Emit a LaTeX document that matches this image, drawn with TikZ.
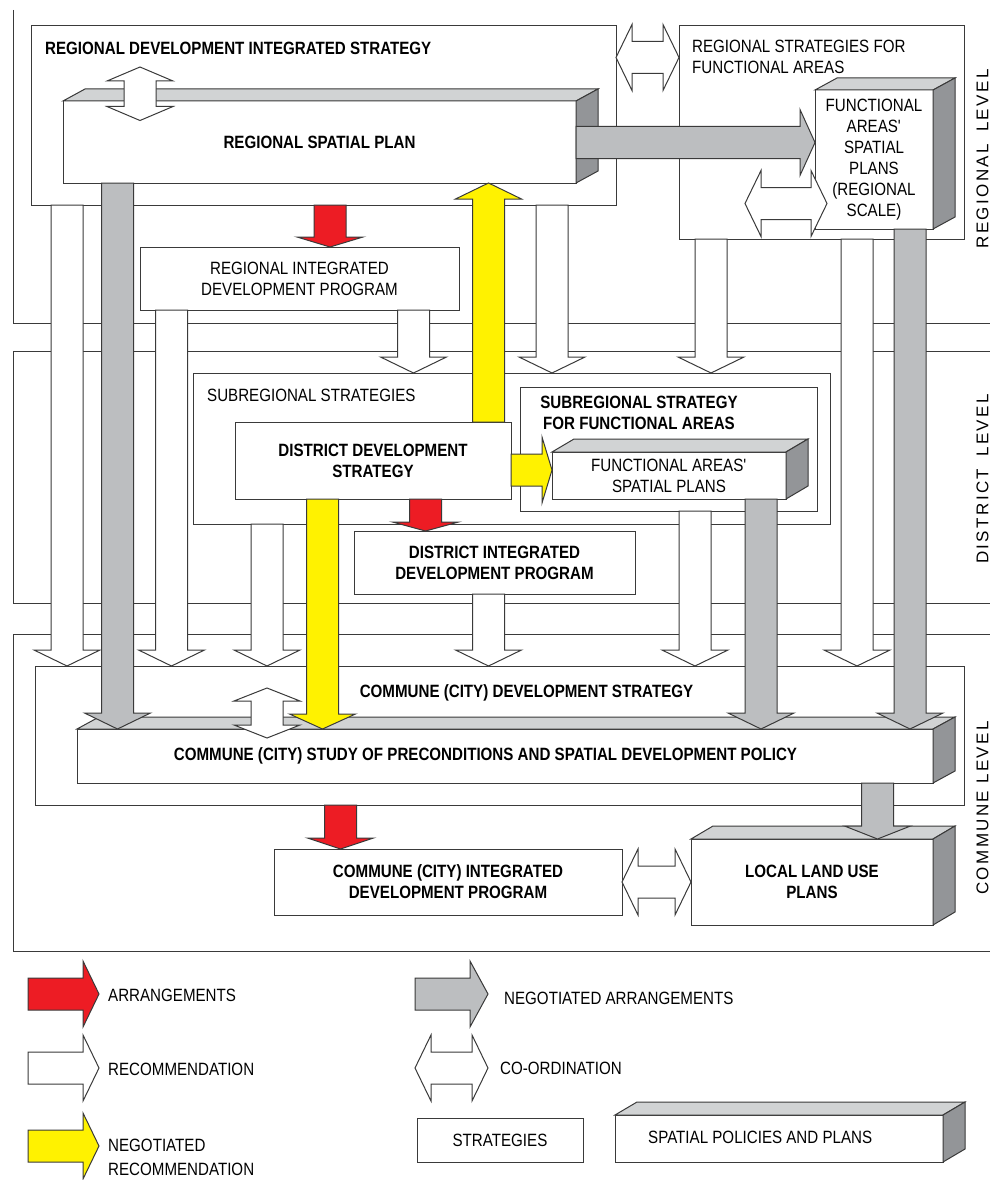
\documentclass[tikz,border=0pt]{standalone}
\usepackage{fontspec}
\setmainfont{Liberation Sans}[FakeStretch=0.85]
\newfontfamily\lvfont{Liberation Sans}[LetterSpace=14]
\usetikzlibrary{calc}
\definecolor{cred}{HTML}{ED1C24}
\definecolor{cyel}{HTML}{FFF200}
\definecolor{cgray}{HTML}{BCBEC0}
\definecolor{ctop}{HTML}{D1D3D4}
\definecolor{cside}{HTML}{939598}
\definecolor{cline}{HTML}{3A3A3A}
\newcommand\fs{\fontsize{17.8}{21}\selectfont}
\tikzset{
 ln/.style={draw=cline, line width=1pt},
 box/.style={ln, fill=white, rectangle, inner sep=0pt, outer sep=0pt, anchor=north west, font=\fs, align=center},
 bbox/.style={box, font=\fs\bfseries},
 arr/.style={ln, line join=miter},
 topface/.style={ln, fill=ctop},
 sideface/.style={ln, fill=cside},
 txt/.style={inner sep=0pt, font=\fs, align=center},
 btxt/.style={txt, font=\fs\bfseries},
 lvl/.style={inner sep=0pt, rotate=90, font=\lvfont\fontsize{17}{20}\selectfont},
}
% 3D faces of a box node: #1 node, #2 depth up
\newcommand\cube[2]{%
 \draw[topface] (#1.north west) -- ++(22,-#2) -- ([shift={(22,-#2)}]#1.north east) -- (#1.north east) -- cycle;
 \draw[sideface] (#1.north east) -- ++(22,-#2) -- ([shift={(22,-#2)}]#1.south east) -- (#1.south east) -- cycle;}
% block arrows: #1 fill, #2 start, #3 tip, #4 head length
\newcommand\ardown[4]{\draw[arr,fill=#1] let \p1=#2, \p2=#3 in
 (\x2-16pt,\y1) -- (\x2-16pt,\y2+#4pt) -- (\x2-33pt,\y2+#4pt) -- (\x2,\y2) -- (\x2+33pt,\y2+#4pt) -- (\x2+16pt,\y2+#4pt) -- (\x2+16pt,\y1) -- cycle;}
\newcommand\arup[4]{\draw[arr,fill=#1] let \p1=#2, \p2=#3 in
 (\x2-16pt,\y1) -- (\x2-16pt,\y2-#4pt) -- (\x2-33pt,\y2-#4pt) -- (\x2,\y2) -- (\x2+33pt,\y2-#4pt) -- (\x2+16pt,\y2-#4pt) -- (\x2+16pt,\y1) -- cycle;}
\newcommand\arright[4]{\draw[arr,fill=#1] let \p1=#2, \p2=#3 in
 (\x1,\y2+16pt) -- (\x2-#4pt,\y2+16pt) -- (\x2-#4pt,\y2+33pt) -- (\x2,\y2) -- (\x2-#4pt,\y2-33pt) -- (\x2-#4pt,\y2-16pt) -- (\x1,\y2-16pt) -- cycle;}
% double arrows (co-ordination): #1 first tip, #2 second tip, #3 head length
\newcommand\dblv[3]{\draw[arr,fill=white] let \p1=#1, \p2=#2 in
 (\x1,\y1) -- (\x1+33pt,\y1-#3pt) -- (\x1+16pt,\y1-#3pt) -- (\x1+16pt,\y2+#3pt) -- (\x1+33pt,\y2+#3pt) -- (\x1,\y2) -- (\x1-33pt,\y2+#3pt) -- (\x1-16pt,\y2+#3pt) -- (\x1-16pt,\y1-#3pt) -- (\x1-33pt,\y1-#3pt) -- cycle;}
\newcommand\dblh[3]{\draw[arr,fill=white] let \p1=#1, \p2=#2 in
 (\x1,\y1) -- (\x1+#3pt,\y1+33pt) -- (\x1+#3pt,\y1+16pt) -- (\x2-#3pt,\y1+16pt) -- (\x2-#3pt,\y1+33pt) -- (\x2,\y1) -- (\x2-#3pt,\y1-33pt) -- (\x2-#3pt,\y1-16pt) -- (\x1+#3pt,\y1-16pt) -- (\x1+#3pt,\y1-33pt) -- cycle;}
\begin{document}
\begin{tikzpicture}[x=1pt,y=-1pt]
\useasboundingbox (0,0) rectangle (990,1180);
% level bands
\draw[ln] (13,10) -- (13,323) -- (990,323);
\draw[ln] (990,351) -- (13,351) -- (13,603) -- (990,603);
\draw[ln] (990,634) -- (13,634) -- (13,951) -- (990,951);
\node[lvl] (lvR) at (982.5,159) {REGIONAL\hspace{5pt} LEVEL};
\node[lvl] (lvD) at (982.5,479) {DISTRICT\hspace{5pt} LEVEL};
\node[lvl] (lvC) at (982.5,808) {COMMUNE LEVEL};
% strategy frames
\node[box, minimum width=585pt, minimum height=179pt] (rdis) at (31,26) {};
\node[box, minimum width=285pt, minimum height=213pt] (rsf) at (679,26) {};
\node[box, minimum width=637pt, minimum height=151pt] (subr) at (193,373) {};
\node[box, minimum width=929pt, minimum height=139pt] (cds) at (35,666) {};
% inner boxes
\node[bbox, minimum width=513pt, minimum height=82pt] (rsp) at (63,101) {REGIONAL SPATIAL PLAN};
\cube{rsp}{12}
\node[box, minimum width=118pt, minimum height=139pt] (fasr) at (815,90) {FUNCTIONAL\\AREAS\textquotesingle\\SPATIAL\\PLANS\\(REGIONAL\\SCALE)};
\cube{fasr}{12}
\node[box, minimum width=319pt, minimum height=63pt] (ridp) at (140,247) {REGIONAL INTEGRATED\\DEVELOPMENT PROGRAM};
\node[bbox, minimum width=276pt, minimum height=77pt] (dds) at (235,422) {DISTRICT DEVELOPMENT\\STRATEGY};
\node[box, minimum width=297pt, minimum height=124pt] (ssfa) at (520,387) {};
\node[box, minimum width=234pt, minimum height=47pt] (fasd) at (552,452) {FUNCTIONAL AREAS\textquotesingle\\SPATIAL PLANS};
\cube{fasd}{13}
\node[bbox, minimum width=281pt, minimum height=63pt] (didp) at (354,531) {DISTRICT INTEGRATED\\DEVELOPMENT PROGRAM};
\node[box, minimum width=856pt, minimum height=54pt] (ccs) at (77,729) {};
\cube{ccs}{12}
\node[bbox, minimum width=348pt, minimum height=66pt] (ccidp) at (274,849) {COMMUNE (CITY) INTEGRATED\\DEVELOPMENT PROGRAM};
\node[bbox, minimum width=242pt, minimum height=86pt] (llup) at (691,839) {LOCAL LAND USE\\PLANS};
\cube{llup}{13}
% arrows regional level
\ardown{cred}{(330,0 |- rdis.south)}{(330,0 |- ridp.north)}{10}
\ardown{white}{(67,0 |- rdis.south)}{(67,0 |- cds.north)}{16}
\ardown{cgray}{(117.5,0 |- rsp.south)}{(117.5,0 |- ccs.north)}{16}
\ardown{white}{(171.5,0 |- ridp.south)}{(171.5,0 |- cds.north)}{16}
\ardown{white}{(413.5,0 |- ridp.south)}{(413.5,0 |- subr.north)}{16}
\arup{cyel}{(488.5,0 |- dds.north)}{(488.5,0 |- rsp.south)}{16}
\ardown{white}{(552,0 |- rdis.south)}{(552,0 |- subr.north)}{16}
\ardown{white}{(711,0 |- rsf.south)}{(711,0 |- subr.north)}{16}
\ardown{white}{(857,0 |- rsf.south)}{(857,0 |- cds.north)}{16}
\ardown{cgray}{(910,0 |- fasr.south)}{(910,0 |- ccs.north)}{16}
\arright{cgray}{(rsp.east |- 0,142.5)}{(fasr.west |- 0,142.5)}{15}
\coordinate (cva) at (140,67);
\coordinate (cvb) at (140,120.5);
\dblv{(cva)}{(cvb)}{14}
\dblh{(rdis.east |- 0,57.5)}{(rsf.west |- 0,57.5)}{16}
\coordinate (cha) at (745,203.5);
\coordinate (chb) at (827,203.5);
\dblh{(cha)}{(chb)}{16}
% arrows district level
\ardown{white}{(267,0 |- subr.south)}{(267,0 |- cds.north)}{16}
\ardown{cyel}{(322.5,0 |- dds.south)}{(322.5,0 |- ccs.north)}{15}
\ardown{cred}{(425.5,0 |- dds.south)}{(425.5,0 |- didp.north)}{9}
\arright{cyel}{(dds.east |- 0,470)}{(fasd.west |- 0,470)}{10}
\ardown{white}{(488.5,0 |- didp.south)}{(488.5,0 |- cds.north)}{16}
\ardown{white}{(695,0 |- ssfa.south)}{(695,0 |- cds.north)}{16}
\ardown{cgray}{(761,0 |- fasd.south)}{(761,0 |- ccs.north)}{16}
% arrows commune level
\coordinate (cca) at (267,688);
\coordinate (ccb) at (267,738);
\dblv{(cca)}{(ccb)}{13}
\ardown{cred}{(340.5,0 |- cds.south)}{(340.5,0 |- ccidp.north)}{11}
\ardown{cgray}{(877.5,0 |- ccs.south)}{(877.5,0 |- llup.north)}{13}
\dblh{(ccidp.east |- 0,882)}{(llup.west |- 0,882)}{16}
% labels of frames
\node[btxt, anchor=west] (rdisT) at (45,48) {REGIONAL DEVELOPMENT INTEGRATED STRATEGY};
\node[txt, anchor=west, align=left] (rsfT) at (692,57) {REGIONAL STRATEGIES FOR\\FUNCTIONAL AREAS};
\node[txt, anchor=west] (subrT) at (207,395) {SUBREGIONAL STRATEGIES};
\node[btxt] (ssfaT) at (639,413) {SUBREGIONAL STRATEGY\\FOR FUNCTIONAL AREAS};
\node[btxt] (cdsT) at (526.5,692.5) {COMMUNE (CITY) DEVELOPMENT STRATEGY};
\node[btxt] (ccsT) at (485.5,756) {COMMUNE (CITY) STUDY OF PRECONDITIONS AND SPATIAL DEVELOPMENT POLICY};
% legend
\coordinate (l1a) at (28,994);   \coordinate (l1b) at (99,994);
\coordinate (l2a) at (28,1068);  \coordinate (l2b) at (99,1068);
\coordinate (l3a) at (28,1146);  \coordinate (l3b) at (99,1146);
\coordinate (l4a) at (415,994);  \coordinate (l4b) at (488,994);
\coordinate (l5a) at (415,1068); \coordinate (l5b) at (488,1068);
\arright{cred}{(l1a)}{(l1b)}{16}
\arright{white}{(l2a)}{(l2b)}{16}
\arright{cyel}{(l3a)}{(l3b)}{16}
\arright{cgray}{(l4a)}{(l4b)}{18}
\dblh{(l5a)}{(l5b)}{16}
\node[txt, anchor=west] (lt1) at (108,995) {ARRANGEMENTS};
\node[txt, anchor=west] (lt2) at (108,1069) {RECOMMENDATION};
\node[txt, anchor=west, align=left] (lt3) at (108,1157.5) {NEGOTIATED\\[3pt]RECOMMENDATION};
\node[txt, anchor=west] (lt4) at (504,998) {NEGOTIATED ARRANGEMENTS};
\node[txt, anchor=west] (lt5) at (500,1068) {CO-ORDINATION};
\node[box, minimum width=166pt, minimum height=44pt] (lstr) at (417,1118) {STRATEGIES};
\node[box, minimum width=328pt, minimum height=47pt] (lspp) at (615,1115) {};
\cube{lspp}{13}
\node[txt, anchor=west] (lsppT) at (648,1137) {SPATIAL POLICIES AND PLANS};
\end{tikzpicture}
\end{document}
